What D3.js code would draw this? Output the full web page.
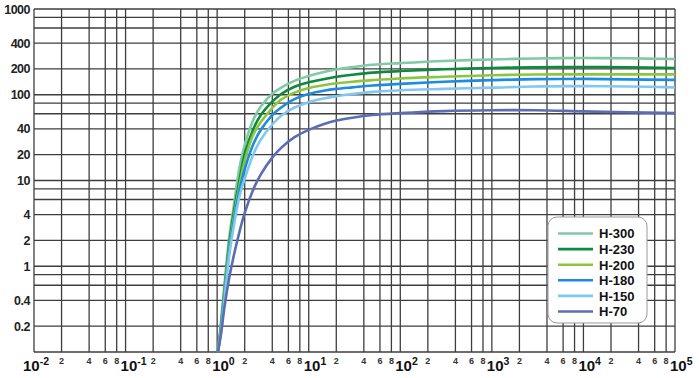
<!DOCTYPE html>
<html lang="en">
<head>
<meta charset="UTF-8" />
<title>H series curves</title>
<script src="https://d3js.org/d3.v7.min.js"></script>
<style>
  body { margin: 0; background: #fff; }
  text { font-family: "Liberation Sans", Arial, sans-serif; }
</style>
</head>
<body>
<script>
var w = 699;
var h = 378;

// data
var seriesNames = ["H-300", "H-230", "H-200", "H-180", "H-150", "H-70"];
var seriesColors = ["#80caa6", "#0c8a3d", "#8cc63f", "#1b8de0", "#80c8f0", "#5c6db1"];

var xValues = [1.02, 1.1, 1.2, 1.35, 1.5, 1.75, 2, 2.5, 3, 4, 5, 7, 10, 15, 20, 30, 50, 100, 300, 1000, 3000, 10000, 30000, 100000];
var h300 = [0.1, 0.22, 0.6, 2.1, 4.6, 14, 26, 52, 73, 103, 121, 145, 165, 185, 197, 210, 224, 234, 248, 258, 265, 268, 266, 261];
var h230 = [0.1, 0.2, 0.52, 1.8, 3.9, 10, 20.5, 40.5, 58, 83, 102, 124, 140, 153, 162, 171, 181, 189, 198, 205, 209, 211, 209, 205];
var h200 = [0.1, 0.19, 0.48, 1.6, 3.4, 8.6, 17, 35, 48, 70, 88, 106, 120, 130, 136, 142, 148, 155, 162, 169, 172, 173, 173, 173];
var h180 = [0.1, 0.18, 0.44, 1.45, 3.1, 7.6, 13.5, 27, 39, 58, 71, 89, 102, 112, 117, 122, 128, 134, 142, 148, 152, 153, 151, 149];
var h150 = [0.1, 0.17, 0.4, 1.3, 2.7, 6.5, 10.5, 20.5, 30, 45, 57, 71, 82, 91, 96, 102, 108, 113, 117, 121, 125, 126, 125, 122];
var h70 = [0.1, 0.16, 0.33, 0.72, 1.25, 2.5, 4.2, 8, 11.8, 18.5, 24, 32, 39, 46, 50, 54, 58, 61, 64.5, 66, 66, 64, 62.5, 61];
var seriesValues = [h300, h230, h200, h180, h150, h70];

// ticks
var xDecades = [-2, -1, 0, 1, 2, 3, 4, 5];
var minorMult = [2, 4, 6, 8];
var yLabels = [1000, 400, 200, 100, 40, 20, 10, 4, 2, 1, 0.4, 0.2];
var yGridMult = [1, 2, 4, 6, 8];

var plotLeft = 34, plotRight = 675, plotTop = 9, plotBottom = 352;

var xScale = d3.scaleLog().domain([0.01, 100000]).range([plotLeft, plotRight]);
var yScale = d3.scaleLog().domain([0.1, 1000]).range([plotBottom, plotTop]);

var svg = d3.select("body")
	.append("svg")
	.attr("width", w)
	.attr("height", h);

// grid lines
var xGrid = [];
xDecades.forEach(function (e) {
	xGrid.push(Math.pow(10, e));
	if (e < 5) {
		minorMult.forEach(function (m) {
			xGrid.push(m * Math.pow(10, e));
		});
	}
});
var yGrid = [];
[-1, 0, 1, 2, 3].forEach(function (e) {
	yGridMult.forEach(function (m) {
		if (e < 3 || m === 1) yGrid.push(m * Math.pow(10, e));
	});
});

var grid = svg.append("g")
	.attr("stroke", "#3e3e3e")
	.attr("stroke-width", 1.3);

grid.selectAll("line.v")
	.data(xGrid)
	.enter()
	.append("line")
	.attr("class", "v")
	.attr("x1", function (d) { return xScale(d); })
	.attr("x2", function (d) { return xScale(d); })
	.attr("y1", plotTop)
	.attr("y2", plotBottom);

grid.selectAll("line.h")
	.data(yGrid)
	.enter()
	.append("line")
	.attr("class", "h")
	.attr("x1", plotLeft)
	.attr("x2", plotRight)
	.attr("y1", function (d) { return yScale(d); })
	.attr("y2", function (d) { return yScale(d); });

// y labels
svg.selectAll("text.ylab")
	.data(yLabels)
	.enter()
	.append("text")
	.attr("class", "ylab")
	.attr("x", 30)
	.attr("y", function (d) { return yScale(d) + 4.5; })
	.attr("text-anchor", "end")
	.attr("font-size", "12.5px")
	.attr("font-weight", "bold")
	.attr("letter-spacing", "-0.5px")
	.attr("fill", "#222")
	.text(function (d) { return d; });

// x minor labels
var minorTicks = [];
xDecades.forEach(function (e) {
	if (e < 5) minorMult.forEach(function (m) { minorTicks.push({ v: m * Math.pow(10, e), m: m }); });
});
svg.selectAll("text.xmin")
	.data(minorTicks)
	.enter()
	.append("text")
	.attr("class", "xmin")
	.attr("x", function (d) { return xScale(d.v); })
	.attr("y", 364)
	.attr("text-anchor", "middle")
	.attr("font-size", "9px")
	.attr("font-weight", "bold")
	.attr("fill", "#333")
	.text(function (d) { return d.m; });

// x decade labels
var dec = svg.selectAll("text.xdec")
	.data(xDecades)
	.enter()
	.append("text")
	.attr("class", "xdec")
	.attr("x", function (d, i) { return xScale(Math.pow(10, d)) - (i === 0 ? 11 : 5); })
	.attr("y", 371)
	.attr("font-size", "15px")
	.attr("font-weight", "bold")
	.attr("fill", "#111");
dec.append("tspan").text("10");
dec.append("tspan")
	.attr("dy", -6)
	.attr("font-size", "10.5px")
	.text(function (d) { return d; });

// curves
var line = d3.line()
	.x(function (d, i) { return xScale(xValues[i]); })
	.y(function (d) { return yScale(d); })
	.curve(d3.curveCatmullRom.alpha(0.5));

svg.selectAll("path.curve")
	.data(seriesValues)
	.enter()
	.append("path")
	.attr("class", "curve")
	.attr("fill", "none")
	.attr("stroke", function (d, i) { return seriesColors[i]; })
	.attr("stroke-width", 2.6)
	.attr("d", line);

// legend
var legend = svg.append("g");
legend.append("rect")
	.attr("x", 548)
	.attr("y", 217)
	.attr("width", 99)
	.attr("height", 106)
	.attr("rx", 9)
	.attr("fill", "#fff")
	.attr("stroke", "#999")
	.attr("stroke-width", 1);

var rows = legend.selectAll("g.row")
	.data(seriesNames)
	.enter()
	.append("g")
	.attr("class", "row")
	.attr("transform", function (d, i) { return "translate(0," + (233.5 + i * 15.6) + ")"; });
rows.append("line")
	.attr("x1", 558)
	.attr("x2", 593)
	.attr("stroke", function (d, i) { return seriesColors[i]; })
	.attr("stroke-width", 2.6);
rows.append("text")
	.attr("x", 599)
	.attr("y", 4.8)
	.attr("font-size", "13px")
	.attr("font-weight", "bold")
	.attr("fill", "#111")
	.text(function (d) { return d; });
</script>
</body>
</html>
